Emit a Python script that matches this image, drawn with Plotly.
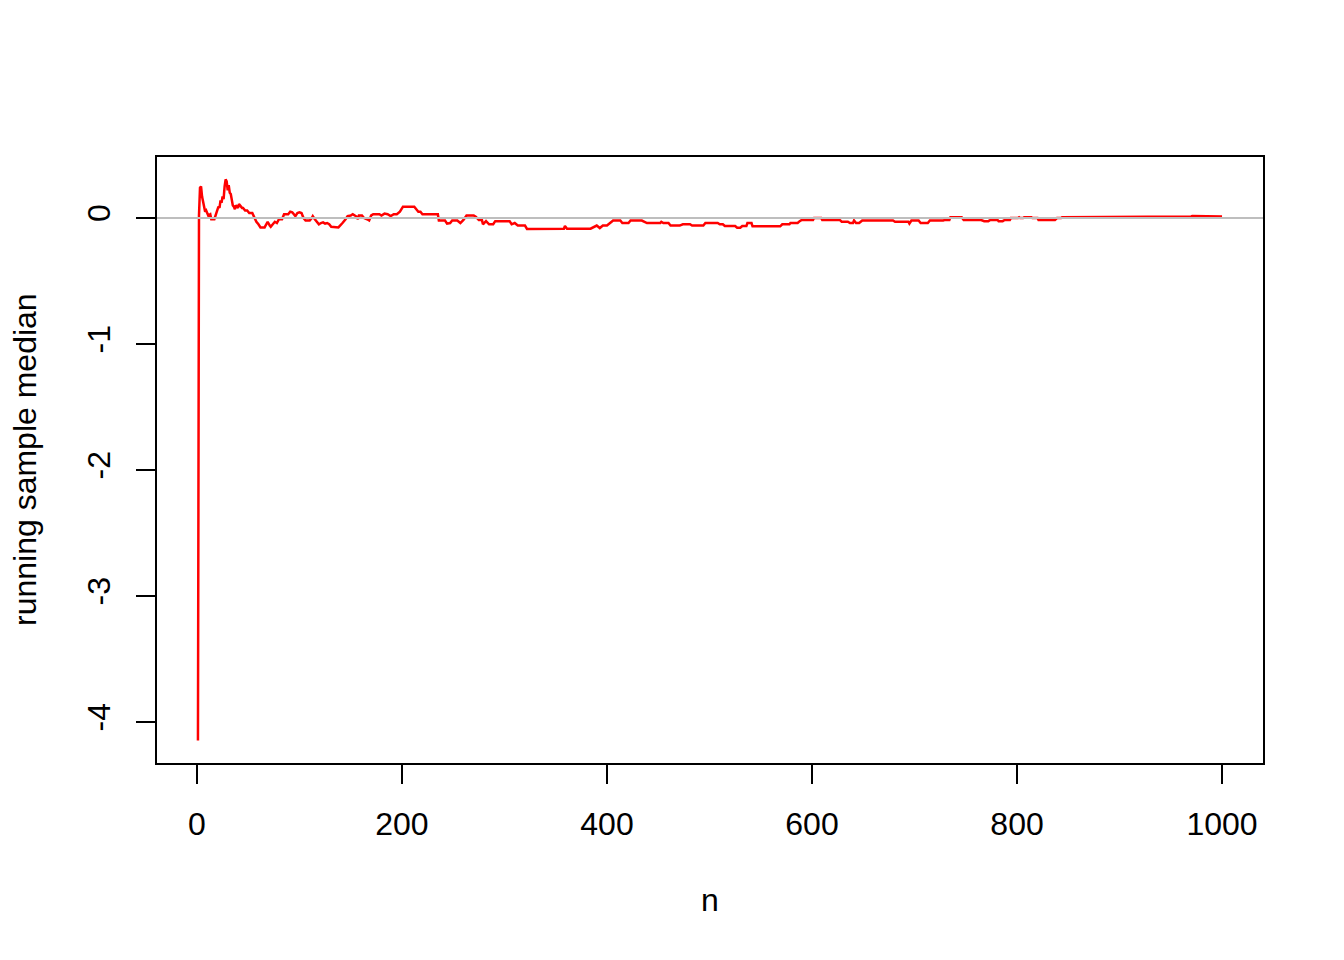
import plotly.graph_objects as go

# running sample median (n, value)
n_vals = [1, 2, 3, 4, 5, 6, 7, 8, 9, 10, 11, 13, 14, 17, 18, 19, 21, 22, 23, 24, 25, 26, 27, 28, 29, 30,
          31, 32, 33, 34, 35, 36, 37, 38, 40, 41, 42, 44, 45, 47, 49, 51, 54, 56, 58, 60, 62, 66, 68, 69,
          71, 72, 74, 76, 78, 80, 83, 85, 89, 91, 93, 95, 96, 98, 100, 102, 104, 106, 110, 112, 113, 115,
          117, 119, 121, 123, 125, 127, 129, 131, 138, 140, 142, 145, 147, 150, 152, 154, 156, 157, 158,
          161, 163, 166, 168, 170, 172, 178, 180, 183, 186, 189, 192, 195, 198, 201, 212, 214, 216, 218,
          220, 235, 236, 242, 244, 247, 249, 254, 257, 260, 263, 270, 272, 275, 278, 279, 282, 285, 289,
          291, 305, 307, 310, 313, 320, 322, 358, 359, 361, 384, 386, 390, 393, 396, 400, 403, 406, 413,
          415, 421, 423, 434, 437, 439, 452, 453, 455, 460, 462, 471, 474, 481, 483, 494, 496, 508, 510,
          513, 515, 525, 527, 530, 532, 536, 537, 541, 542, 569, 571, 578, 579, 586, 588, 590, 601, 602,
          609, 610, 627, 629, 635, 637, 640, 641, 643, 646, 649, 679, 681, 694, 695, 697, 704, 706, 713,
          715, 728, 730, 734, 735, 746, 748, 765, 768, 772, 774, 781, 782, 786, 788, 793, 794, 801, 802,
          803, 806, 807, 814, 815, 820, 821, 836, 837, 839, 840, 843, 844, 959, 961, 970, 971, 976, 977,
          1000]
median_vals = [-4.147, 0.02, 0.24, 0.25, 0.17, 0.12, 0.09, 0.05, 0.06, 0.03, 0.02, 0.03, -0.01, -0.01,
               0.01, 0.04, 0.09, 0.08, 0.14, 0.12, 0.17, 0.15, 0.25, 0.306, 0.29, 0.22,
               0.26, 0.2, 0.19, 0.12, 0.1, 0.09, 0.07, 0.1, 0.08, 0.11, 0.1, 0.08, 0.08, 0.06, 0.06, 0.04,
               0.04, 0.0, -0.03, -0.05, -0.075, -0.075, -0.05, -0.03,
               -0.06, -0.07, -0.05, -0.03, -0.04, -0.01, -0.01, 0.03, 0.03, 0.05, 0.045, 0.03, 0.015, 0.04,
               0.045, 0.04, 0.0, -0.02, -0.02, 0.0, 0.015, -0.01,
               -0.03, -0.05, -0.04, -0.035, -0.045, -0.04, -0.05, -0.07, -0.075, -0.06, -0.04, -0.01, 0.015,
               0.02, 0.03, 0.02, 0.01, -0.01, 0.02,
               0.02, 0.0, -0.01, -0.02, 0.02, 0.03, 0.03, 0.02, 0.035, 0.03, 0.015, 0.03, 0.03, 0.05, 0.09,
               0.09, 0.07, 0.05, 0.05,
               0.03, 0.03, -0.02, -0.02, -0.045, -0.04, -0.02, -0.02, -0.04, -0.015, 0.02, 0.02, 0.01,
               -0.015, -0.015, -0.05, -0.025, -0.05, -0.05,
               -0.025, -0.025, -0.05, -0.04, -0.06, -0.06, -0.087, -0.085, -0.064, -0.085, -0.085, -0.075,
               -0.06, -0.08, -0.06, -0.06, -0.04, -0.02, -0.02,
               -0.04, -0.04, -0.02, -0.02, -0.03, -0.04, -0.04, -0.03, -0.04, -0.04, -0.06, -0.06, -0.05,
               -0.05, -0.06, -0.06, -0.04, -0.04, -0.05,
               -0.05, -0.064, -0.064, -0.078, -0.078, -0.064, -0.064, -0.04, -0.04, -0.066, -0.066, -0.05,
               -0.05, -0.04, -0.04, -0.025, -0.015, -0.015, 0.0,
               0.0, -0.015, -0.015, -0.03, -0.03, -0.04, -0.04, -0.02, -0.04, -0.04, -0.02, -0.02, -0.03,
               -0.03, -0.045, -0.02, -0.02, -0.04, -0.04,
               -0.02, -0.02, -0.015, -0.015, 0.006, 0.006, -0.016, -0.016, -0.025, -0.025, -0.016, -0.016,
               -0.025, -0.025, -0.016, -0.016, 0.0, 0.0, 0.006,
               0.0, 0.0, 0.006, 0.006, 0.0, 0.0, -0.016, -0.016, -0.016, 0.0, 0.0, 0.0, 0.006, 0.006, 0.012,
               0.012, 0.016, 0.016, 0.012,
               0.012]

x_ticks = [0, 200, 400, 600, 800, 1000]
y_ticks = [0, -1, -2, -3, -4]

FONT = "Liberation Sans, Arial, sans-serif"
FS = 32

fig = go.Figure()
fig.add_trace(go.Scatter(x=n_vals, y=median_vals, mode="lines",
                         line=dict(color="#FF0000", width=2.5), hoverinfo="skip"))

fig.add_shape(type="line", xref="paper", x0=0, x1=1, yref="y", y0=0, y1=0,
              line=dict(color="#BEBEBE", width=2), layer="above")

axis_common = dict(showgrid=False, zeroline=False, showline=True, mirror=True,
                   linecolor="black", linewidth=2, ticks="outside", ticklen=19,
                   tickwidth=2, tickcolor="black",
                   tickfont=dict(family=FONT, size=FS, color="black"))

fig.update_xaxes(range=[-38.96, 1039.96], tickvals=x_ticks,
                 ticktext=[str(v) for v in x_ticks], ticklabelstandoff=13, **axis_common)
fig.update_yaxes(range=[-4.325, 0.484], tickvals=y_ticks,
                 ticktext=[str(v) for v in y_ticks], tickangle=-90, ticklabelstandoff=13,
                 **axis_common)

fig.add_annotation(text="n", xref="paper", yref="paper", x=0.5, y=0, yshift=-137,
                   xanchor="center", yanchor="middle", showarrow=False,
                   font=dict(family=FONT, size=FS, color="black"))
fig.add_annotation(text="running sample median", xref="paper", yref="paper", x=0, y=0.5,
                   xshift=-132, xanchor="center", yanchor="middle", textangle=-90,
                   showarrow=False, font=dict(family=FONT, size=FS, color="black"))

fig.update_layout(width=1344, height=960, margin=dict(l=149, r=89, t=149, b=205),
                  plot_bgcolor="white", paper_bgcolor="white", showlegend=False)

fig.write_html("out.html")
